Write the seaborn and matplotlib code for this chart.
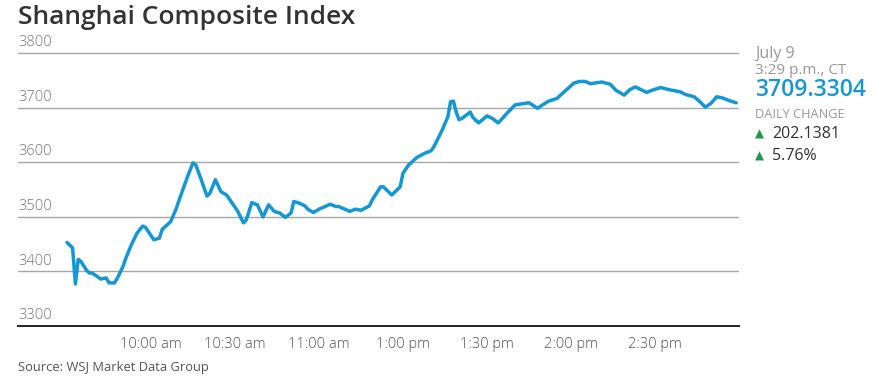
import numpy as np
import pandas as pd
import matplotlib.pyplot as plt
import seaborn as sns

# trading minutes since the 9:30 open (11:30 -> 1:00 pm break collapsed)
minutes = [0, 2, 3, 4, 5, 7, 8, 9, 11, 12, 14, 15, 17, 18, 20, 21, 23, 25, 27, 28,
           31, 33, 34, 37, 39, 40, 43, 45, 46, 48, 50, 51, 53, 55, 57, 59, 61, 63, 64, 66,
           68, 70, 72, 74, 76, 78, 80, 81, 83, 85, 86, 88, 90, 94, 96, 97, 101, 103, 105, 108,
           109, 112, 113, 116, 119, 120, 122, 125, 128, 130, 131, 134, 136, 137, 138, 139, 140, 141, 144, 145,
           147, 150, 152, 154, 157, 160, 165, 168, 172, 175, 178, 181, 183, 185, 187, 191, 194, 196, 199, 201,
           203, 207, 209, 212, 215, 219, 221, 224, 226, 228, 230, 232, 234, 237, 239]
index_values = [3453, 3443, 3377, 3422, 3418, 3402, 3397, 3397, 3390, 3386, 3388, 3379, 3379, 3388, 3409, 3424, 3449, 3470, 3483, 3481,
                3458, 3461, 3477, 3491, 3515, 3530, 3573, 3599, 3595, 3567, 3538, 3543, 3568, 3546, 3540, 3525, 3510, 3489, 3494, 3526,
                3522, 3500, 3522, 3510, 3507, 3499, 3507, 3528, 3525, 3520, 3514, 3508, 3514, 3523, 3519, 3519, 3510, 3514, 3512, 3520,
                3531, 3555, 3555, 3540, 3555, 3580, 3595, 3609, 3617, 3621, 3628, 3659, 3683, 3711, 3712, 3692, 3678, 3680, 3692, 3682,
                3672, 3685, 3680, 3672, 3689, 3705, 3709, 3699, 3712, 3717, 3731, 3745, 3748, 3748, 3744, 3747, 3743, 3732, 3723, 3733,
                3738, 3728, 3732, 3737, 3733, 3729, 3724, 3720, 3711, 3701, 3708, 3720, 3718, 3712, 3709]

tick_minutes = [0, 30, 60, 90, 120, 150, 180, 210, 240]
tick_labels = ["", "10:00 am", "10:30 am", "11:00 am", "1:00 pm", "1:30 pm", "2:00 pm", "2:30 pm", ""]
y_levels = [3300, 3400, 3500, 3600, 3700, 3800]

df = pd.DataFrame({"minute": minutes, "value": index_values})

blue = "#1497d5"
sns.set_style("white")
plt.rcParams['font.family'] = ['Open Sans', 'DejaVu Sans']

fig = plt.figure(figsize=(8.77, 3.84), dpi=100)
ax = fig.add_axes([18/877, 1 - 326/384, (739 - 18)/877, 274/384])

for v in y_levels[1:]:
    ax.axhline(v, color="#a8a8a8", lw=1, zorder=1)

sns.lineplot(data=df, x="minute", y="value", ax=ax, color=blue, lw=2.5, zorder=3,
             solid_joinstyle="round", solid_capstyle="round")

ax.set_xlim(-17.5, 240)
ax.set_ylim(3300, 3802)
ax.set_xticks(tick_minutes)
ax.set_xticklabels(tick_labels, fontsize=10.5, color="#555555", fontweight="light")
ax.set_yticks([])
ax.tick_params(axis="x", direction="out", length=6, width=1, color="#999999", pad=2)
ax.set_xlabel("")
ax.set_ylabel("")
for s in ["top", "right", "left"]:
    ax.spines[s].set_visible(False)
ax.spines["bottom"].set_color("#222222")
ax.spines["bottom"].set_linewidth(1.4)

for v in y_levels:
    ax.annotate(str(v), xy=(0, v), xycoords=ax.get_yaxis_transform(),
                xytext=(0, 2), textcoords="offset points", ha="left", va="bottom",
                fontsize=10.5, color="#777777", fontweight="light")

fig.text(18/877, 1 - 17/384, "Shanghai Composite Index", fontsize=19, fontweight="semibold",
         color="#333333", va="center", ha="left")
fig.text(18/877, 1 - 368/384, "Source: WSJ Market Data Group", fontsize=9.3,
         color="#555555", va="center", ha="left")

px = 755/877
fig.text(px, 1 - 54/384, "July 9", fontsize=11.5, color="#999999", va="center")
fig.text(px, 1 - 71/384, "3:29 p.m., CT", fontsize=11, color="#999999", va="center")
fig.text(px, 1 - 90/384, "3709.3304", fontsize=16.5, color=blue, fontweight="semibold", va="center")
fig.text(px, 1 - 115/384, "DAILY CHANGE", fontsize=9.2, color="#999999", va="center")
fig.text(px, 1 - 134/384, "\u25b2", fontsize=8.5, color="#1f9a48", va="center")
fig.text(772/877, 1 - 134/384, "202.1381", fontsize=11.5, color="#333333", va="center")
fig.text(px, 1 - 156/384, "\u25b2", fontsize=8.5, color="#1f9a48", va="center")
fig.text(772/877, 1 - 156/384, "5.76%", fontsize=11.5, color="#333333", va="center")

fig.savefig("out.png", dpi=100)
